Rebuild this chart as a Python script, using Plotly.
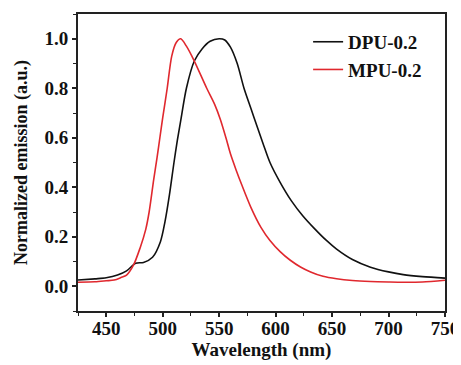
import plotly.graph_objects as go

# DPU-0.2 (black)
dpu_wl = [425, 440, 450, 460, 468, 476, 483, 491, 498, 502, 506, 510, 513, 516, 521, 528, 535, 542, 550,
          555, 560, 566, 572, 578, 584, 589, 595, 604, 614, 624, 634, 645, 654, 668, 684, 700, 713, 730, 750]
dpu_val = [0.025, 0.030, 0.034, 0.045, 0.062, 0.093, 0.096, 0.117, 0.18, 0.26, 0.37, 0.50, 0.59, 0.67, 0.80,
           0.91, 0.96, 0.99, 1.0, 0.995, 0.966, 0.90, 0.80, 0.72, 0.64, 0.575, 0.50, 0.42, 0.345, 0.285,
           0.235, 0.185, 0.15, 0.108, 0.077, 0.058, 0.047, 0.039, 0.033]

# MPU-0.2 (red)
mpu_wl = [425, 440, 450, 457, 463, 468, 474, 480, 485, 488, 492, 495, 497.5, 500, 504, 508, 512, 516, 521,
          528, 539, 546, 551, 556, 560, 565, 570, 578, 587, 595, 604, 613, 622, 631, 642, 654, 668, 684, 700,
          713, 730, 750]
mpu_val = [0.016, 0.018, 0.022, 0.025, 0.035, 0.045, 0.084, 0.155, 0.23, 0.30, 0.43, 0.52, 0.60, 0.68, 0.80,
           0.93, 0.985, 1.0, 0.97, 0.91, 0.80, 0.735, 0.675, 0.60, 0.535, 0.47, 0.41, 0.32, 0.238, 0.185, 0.140,
           0.105, 0.078, 0.058, 0.040, 0.030, 0.023, 0.019, 0.017, 0.016, 0.017, 0.024]

x_ticks = [450, 500, 550, 600, 650, 700, 750]
y_ticks = [0.0, 0.2, 0.4, 0.6, 0.8, 1.0]

FONT = "Liberation Serif, Times New Roman, serif"

fig = go.Figure()
fig.add_trace(go.Scatter(x=dpu_wl, y=dpu_val, mode="lines", name="DPU-0.2",
                         line=dict(color="#111111", width=1.6, shape="spline", smoothing=0.8)))
fig.add_trace(go.Scatter(x=mpu_wl, y=mpu_val, mode="lines", name="MPU-0.2",
                         line=dict(color="#e0282e", width=1.6, shape="spline", smoothing=0.8)))

axis_common = dict(showline=True, linecolor="#222222", linewidth=1.8, mirror=True,
                   ticks="outside", ticklen=4, tickwidth=1.5, tickcolor="#222222",
                   showgrid=False, zeroline=False, automargin=False,
                   tickfont=dict(family=FONT, size=19, color="#111111", weight="bold"))

fig.update_xaxes(range=[425, 750], tickvals=x_ticks, ticklabelstandoff=-5,
                 minor=dict(ticks="outside", ticklen=3, tickwidth=1.2, dtick=25, tick0=425, tickcolor="#222222"),
                 title=dict(text="Wavelength (nm)",
                            font=dict(family=FONT, size=19, color="#111111", weight="bold"),
                            standoff=2),
                 **axis_common)
fig.update_yaxes(range=[-0.1, 1.1], tickvals=y_ticks, tickformat=".1f",
                 minor=dict(ticks="outside", ticklen=3, tickwidth=1.2, dtick=0.1, tick0=0, tickcolor="#222222"),
                 title=dict(text="Normalized emission (a.u.)",
                            font=dict(family=FONT, size=18, color="#111111", weight="bold"),
                            standoff=12),
                 **axis_common)

# page body adds an 8px offset, so the figure is sized to fill the remaining window
fig.update_layout(
    width=453, height=357,
    margin=dict(l=70, r=16, t=6, b=54),
    paper_bgcolor="white", plot_bgcolor="white",
    showlegend=True,
    legend=dict(x=0.627, y=0.97, xanchor="left", yanchor="top", bgcolor="rgba(0,0,0,0)",
                font=dict(family=FONT, size=19, color="#111111", weight="bold"), tracegroupgap=0,
                itemwidth=30),
)

fig.write_html("out.html")
